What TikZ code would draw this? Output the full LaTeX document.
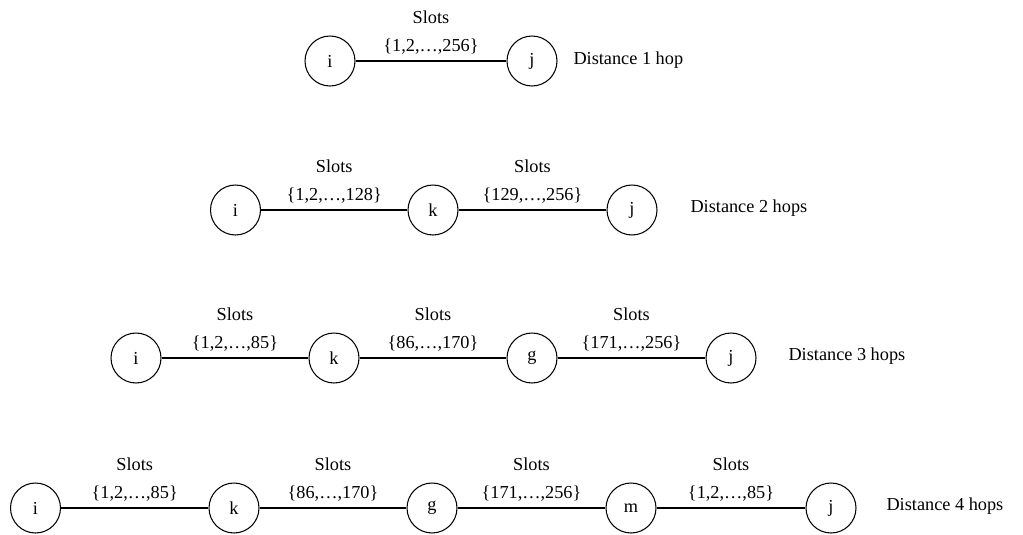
\documentclass[tikz,border=0pt]{standalone}
\usepackage{fontspec}
\setmainfont{Liberation Serif}
\usepackage{tikz}

\tikzset{
  station/.style={circle, draw, minimum size=1cm, inner sep=0pt},
  slots/.style={above, align=center, inner sep=0pt, yshift=3.3pt},
  hoplabel/.style={anchor=west, inner sep=0pt},
  every node/.style={font=\fontsize{10.4}{15.9}\selectfont}
}

\begin{document}
\begin{tikzpicture}[x=0.02cm, y=-0.02cm, line width=0.6pt]
      \useasboundingbox (0,0) rectangle (1023,534);

      % Distance 1 hop
      \node[station] (i1) at (330,61) {i};
      \node[station] (j1) at (532,61) {j};
      \draw (i1) -- node[slots] {Slots\\\{1,2,…,256\}} (j1);
      \node[hoplabel] at (573,60) {Distance 1 hop};

      % Distance 2 hops
      \node[station] (i2) at (235.5,210) {i};
      \node[station] (k2) at (433,210) {k};
      \node[station] (j2) at (632,210) {j};
      \draw (i2) -- node[slots] {Slots\\\{1,2,…,128\}} (k2);
      \draw (k2) -- node[slots] {Slots\\\{129,…,256\}} (j2);
      \node[hoplabel] at (690,208) {Distance 2 hops};

      % Distance 3 hops
      \node[station] (i3) at (136,358) {i};
      \node[station] (k3) at (334,358) {k};
      \node[station] (g3) at (532,358) {g};
      \node[station] (j3) at (731,358) {j};
      \draw (i3) -- node[slots] {Slots\\\{1,2,…,85\}} (k3);
      \draw (k3) -- node[slots] {Slots\\\{86,…,170\}} (g3);
      \draw (g3) -- node[slots] {Slots\\\{171,…,256\}} (j3);
      \node[hoplabel] at (788,356) {Distance 3 hops};

      % Distance 4 hops
      \node[station] (i4) at (35.5,508) {i};
      \node[station] (k4) at (234,508) {k};
      \node[station] (g4) at (432,508) {g};
      \node[station] (m4) at (631,508) {m};
      \node[station] (j4) at (831,508) {j};
      \draw (i4) -- node[slots] {Slots\\\{1,2,…,85\}} (k4);
      \draw (k4) -- node[slots] {Slots\\\{86,…,170\}} (g4);
      \draw (g4) -- node[slots] {Slots\\\{171,…,256\}} (m4);
      \draw (m4) -- node[slots] {Slots\\\{1,2,…,85\}} (j4);
      \node[hoplabel] at (886,506) {Distance 4 hops};
    \end{tikzpicture}
\end{document}
